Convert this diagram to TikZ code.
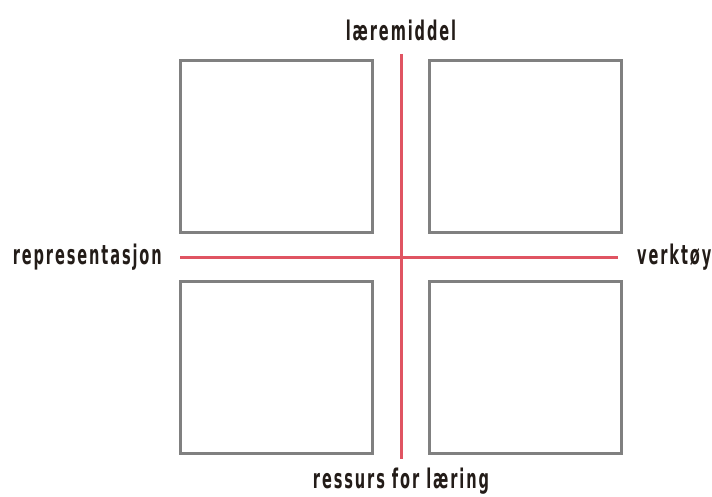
\documentclass[tikz,border=0pt]{standalone}
\usepackage{fontspec}
\newfontfamily\axisfont[FakeStretch=0.54,LetterSpace=7]{DejaVu Sans}
\usetikzlibrary{positioning,calc}
\definecolor{boxgray}{RGB}{128,128,128}
\definecolor{axisred}{RGB}{224,84,98}
\definecolor{labelink}{RGB}{35,28,24}
\tikzset{
  quad/.style={rectangle, draw=boxgray, line width=3pt, minimum width=192pt, minimum height=172pt,
               inner sep=0pt},
  axis/.style={draw=axisred, line width=3pt},
  axlbl/.style={font=\axisfont\bfseries\fontsize{27}{27}\selectfont, text=labelink, inner sep=0pt},
}
\begin{document}
\begin{tikzpicture}[x=1pt, y=-1pt]
  \useasboundingbox (0,0) rectangle (712,497);

  % ============ the four quadrants ============
  \node[quad] (q1) at (276,147) {};
  \node[quad] (q2) at (525,147) {};
  \node[quad] (q3) at (276,367.5) {};
  \node[quad] (q4) at (525,367.5) {};

  % ============ the two axes ============
  \coordinate (ytop) at (401,54);
  \coordinate (ybot) at (401,459);
  \coordinate (xleft) at (180,257);
  \coordinate (xright) at (618,257);
  \draw[axis] (ytop) -- (ybot);
  \draw[axis] (xleft) -- (xright);

  % ============ the axis ends ============
  \node[axlbl, above=13pt of ytop] (top) {læremiddel};
  \node[axlbl, below=9pt of ybot] (bot) {ressurs for læring};
  \node[axlbl, left=18pt of xleft] (lft) {representasjon};
  \node[axlbl, right=19pt of xright] (rgt) {verktøy};

\end{tikzpicture}
\end{document}
